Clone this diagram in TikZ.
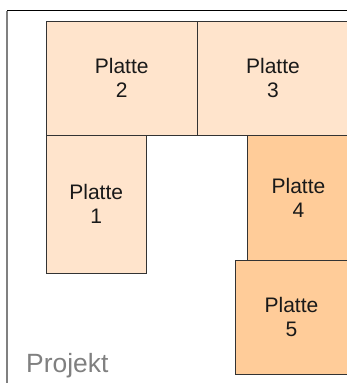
\documentclass[tikz,border=0pt]{standalone}
\usepackage{fontspec}
\setmainfont{Liberation Sans}
\definecolor{lightplate}{HTML}{FFE4CC}
\definecolor{darkplate}{HTML}{FFCC99}
\definecolor{framegray}{HTML}{808080}
\definecolor{plateedge}{HTML}{333333}
\tikzset{
  plate/.style={draw=plateedge,line width=0.8pt,rectangle,inner sep=0pt,outer sep=0pt,align=center,
    text=black!90,font=\fontsize{21}{24}\selectfont,anchor=north west},
  light/.style={plate,fill=lightplate},
  dark/.style={plate,fill=darkplate},
  sized/.style n args={2}{minimum width=#1pt,minimum height=#2pt}
}
\begin{document}
\begin{tikzpicture}[x=1pt,y=-1pt]
\useasboundingbox (0,0) rectangle (347,383);
\fill[white] (0,0) rectangle (347,383);
\coordinate (ftl) at (7.2,10.5);
\coordinate (ftr) at (347,10.5);
\coordinate (fbl) at (7.2,383);
\draw[black,line width=0.9pt] (ftl) -- (ftr);
\draw[framegray,line width=2.2pt] (fbl) -- (ftl);
\node[light,sized={151.5}{113.5}] (p2) at (46,21.5) {Platte\\2};
\node[light,sized={151}{113.5}] (p3) at (197.5,21.5) {Platte\\3};
\node[light,sized={100.5}{138}] (p1) at (46,135) {Platte\\1};
\node[dark,sized={102}{125.5}] (p4) at (247.5,135) {Platte\\4};
\node[dark,sized={113}{113.5}] (p5) at (235,260.5) {Platte\\5};
\node[anchor=base west,inner sep=0pt,text=framegray,font=\fontsize{26.4}{30}\selectfont] (proj) at (26,372) {Projekt};
\end{tikzpicture}
\end{document}
